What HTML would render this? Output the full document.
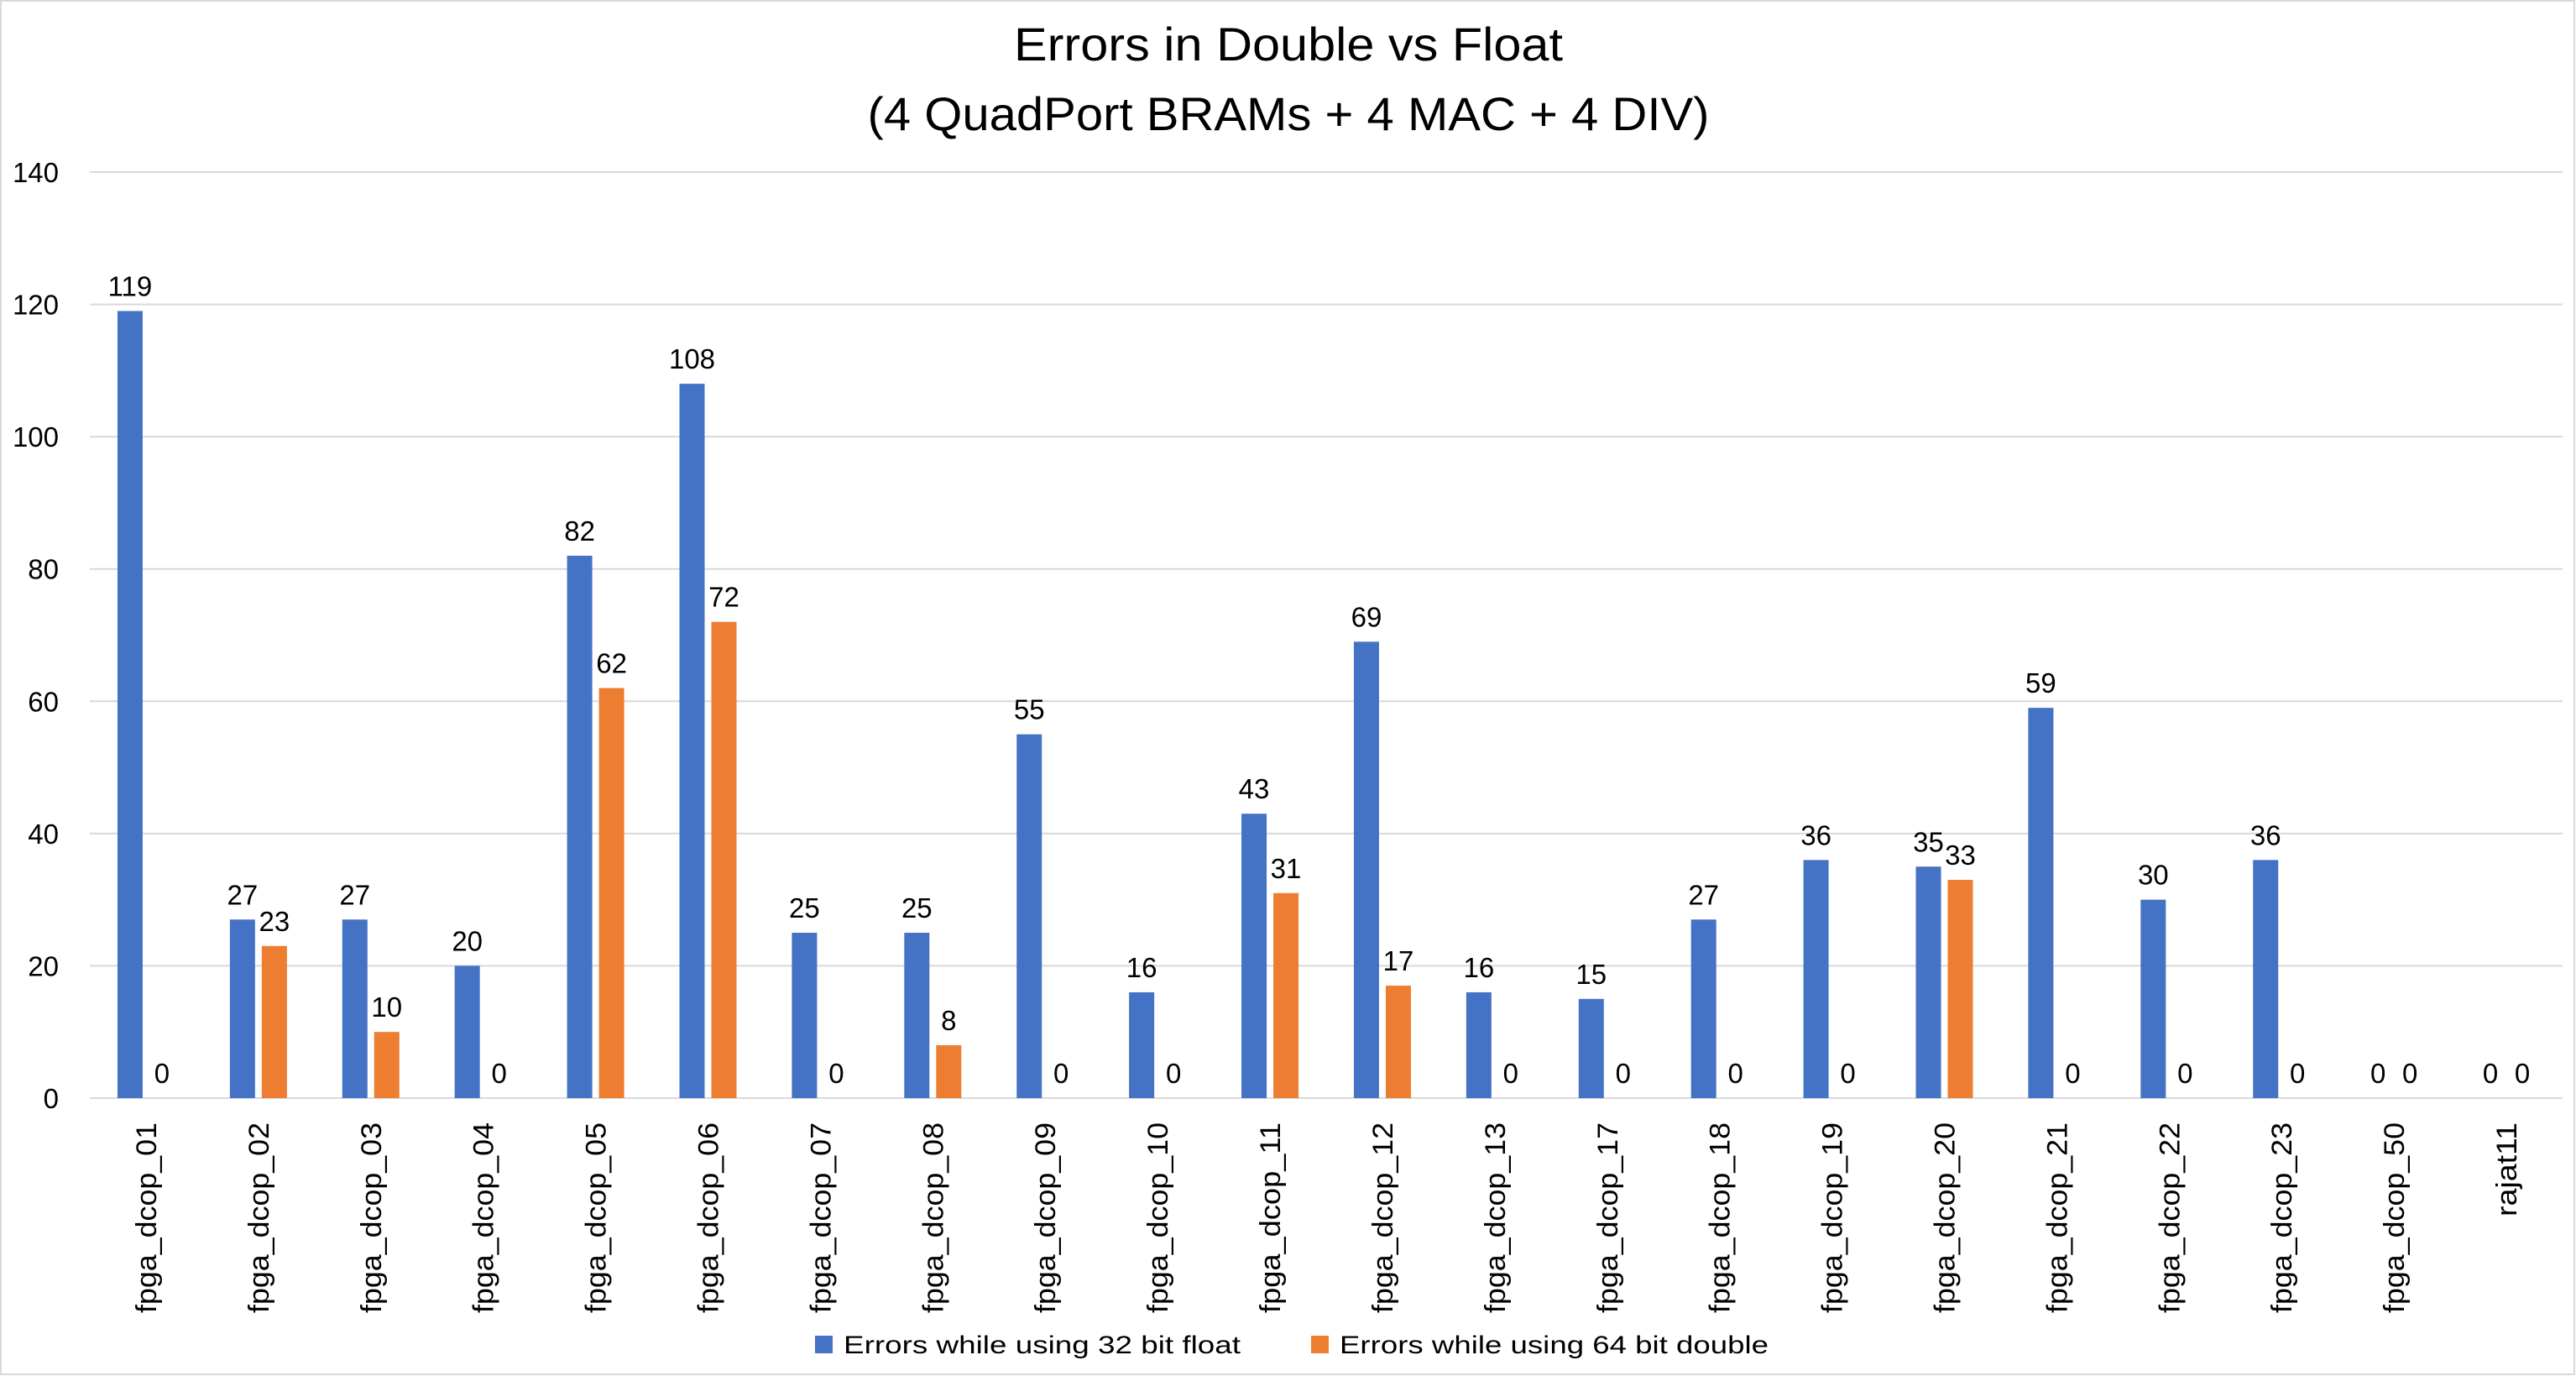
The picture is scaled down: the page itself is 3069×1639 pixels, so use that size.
<!DOCTYPE html>
<html><head><meta charset="utf-8"><style>
html,body{margin:0;padding:0;background:#fff}
svg{display:block;font-family:"Liberation Sans",sans-serif}
</style></head><body>
<svg id="chart" width="3069" height="1639" viewBox="0 0 3069 1639">
<rect x="1" y="1" width="3066" height="1636" fill="#fff" stroke="#d9d9d9" stroke-width="2"/>
<text x="1535" y="72" font-size="56" text-anchor="middle" textLength="654" lengthAdjust="spacingAndGlyphs">Errors in Double vs Float</text>
<text x="1535" y="155" font-size="56" text-anchor="middle" textLength="1003" lengthAdjust="spacingAndGlyphs">(4 QuadPort BRAMs + 4 MAC + 4 DIV)</text>
<g id="grid"></g><g id="bars"></g><g id="labels"></g>
<rect x="971" y="1591" width="21" height="21" fill="#4472c4"/>
<text x="1005" y="1612" font-size="30" textLength="473" lengthAdjust="spacingAndGlyphs">Errors while using 32 bit float</text>
<rect x="1562" y="1591" width="21" height="21" fill="#ed7d31"/>
<text x="1596" y="1612" font-size="30" textLength="511" lengthAdjust="spacingAndGlyphs">Errors while using 64 bit double</text>
</svg>
<script>
const categories=["fpga_dcop_01","fpga_dcop_02","fpga_dcop_03","fpga_dcop_04","fpga_dcop_05","fpga_dcop_06","fpga_dcop_07","fpga_dcop_08","fpga_dcop_09","fpga_dcop_10","fpga_dcop_11","fpga_dcop_12","fpga_dcop_13","fpga_dcop_17","fpga_dcop_18","fpga_dcop_19","fpga_dcop_20","fpga_dcop_21","fpga_dcop_22","fpga_dcop_23","fpga_dcop_50","rajat11"];
const floatErrors=[119,27,27,20,82,108,25,25,55,16,43,69,16,15,27,36,35,59,30,36,0,0];
const doubleErrors=[0,23,10,0,62,72,0,8,0,0,31,17,0,0,0,0,33,0,0,0,0,0];
const yTicks=[0,20,40,60,80,100,120,140];

const NS="http://www.w3.org/2000/svg";
const left=107,right=3053,y0=1308,y140=205;
const band=(right-left)/categories.length;
const y=v=>y0-(v/140)*(y0-y140);
const xc=i=>left+band*(i+0.5);
function mk(tag,attrs,parent,text){const e=document.createElementNS(NS,tag);for(const k in attrs)e.setAttribute(k,attrs[k]);if(text!==undefined)e.textContent=text;parent.appendChild(e);return e;}
const grid=document.getElementById('grid'),bars=document.getElementById('bars'),labels=document.getElementById('labels');
yTicks.forEach(t=>{
  const l=mk('line',{x1:left,x2:right,y1:y(t),y2:y(t),stroke:'#d9d9d9','stroke-width':2},grid);
  
  
  const tx=mk('text',{x:70,y:y(t)+12,'font-size':33,'text-anchor':'end',fill:'#000'},grid,String(t));
  
  
});
categories.forEach((c,i)=>{
  const cx=xc(i);
  const bf=mk('rect',{x:cx-34,y:y(floatErrors[i]),width:30,height:y0-y(floatErrors[i]),fill:'#4472c4'},bars);
  
  
  const bd=mk('rect',{x:cx+4,y:y(doubleErrors[i]),width:30,height:y0-y(doubleErrors[i]),fill:'#ed7d31'},bars);
  
  
  const lf=mk('text',{x:cx-19,y:y(floatErrors[i])-18,'font-size':33,'text-anchor':'middle'},labels,String(floatErrors[i]));
  
  
  const ld=mk('text',{x:cx+19,y:y(doubleErrors[i])-18,'font-size':33,'text-anchor':'middle'},labels,String(doubleErrors[i]));
  
  
  const w=c.length>8?227:112;
  const xl=mk('text',{x:0,y:0,'font-size':34,'text-anchor':'end',textLength:w,lengthAdjust:'spacingAndGlyphs',transform:`translate(${cx+12},1337) rotate(-90)`},labels,c);
  
  
});
</script>
</body></html>
